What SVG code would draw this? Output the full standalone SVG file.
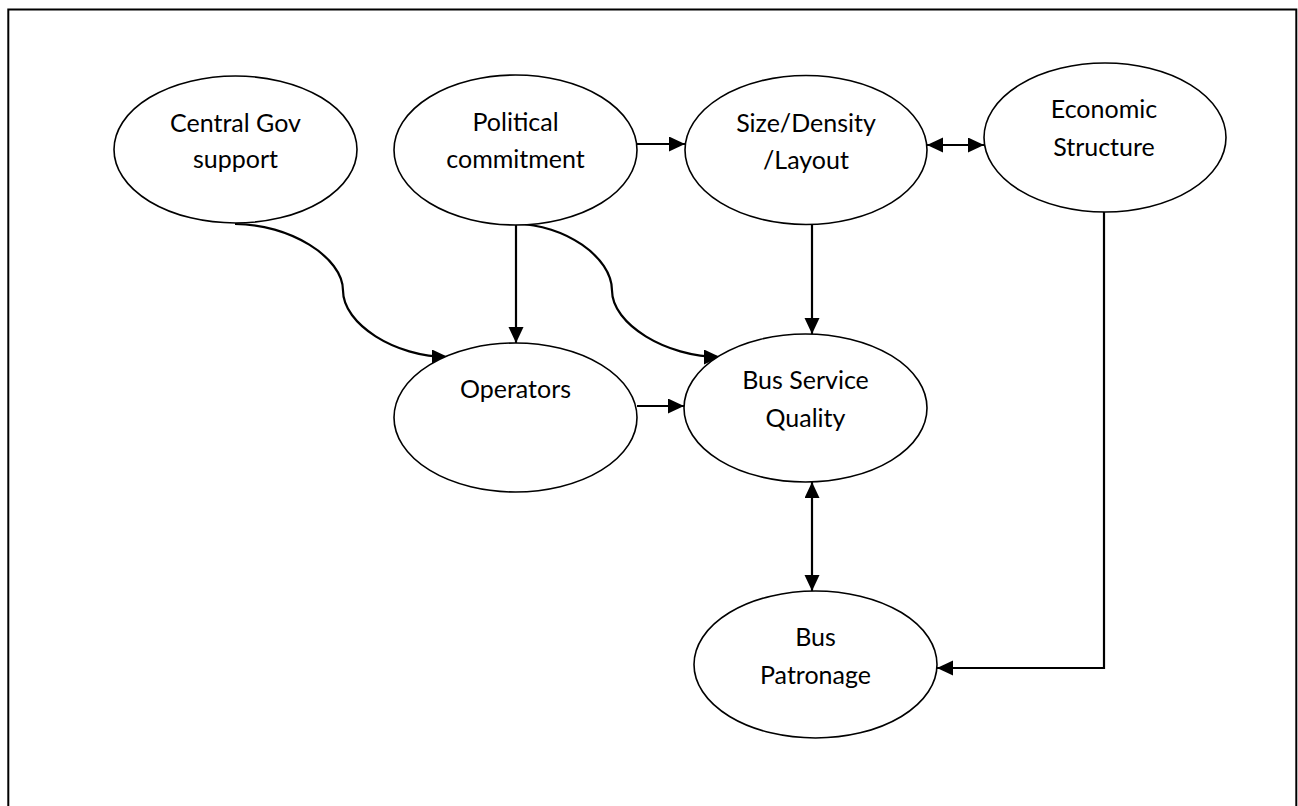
<svg xmlns="http://www.w3.org/2000/svg" width="1298" height="806" viewBox="0 0 1298 806">
<style>
.node ellipse{fill:#fff;stroke:#000;stroke-width:1.6}
.node text{font-family:Lato,"Open Sans","Liberation Sans",sans-serif;font-size:25px;fill:#000;text-anchor:middle}
.conn path{fill:none;stroke:#000;stroke-width:2.2}
</style>
<defs>
<marker id="ah" markerUnits="userSpaceOnUse" markerWidth="17" markerHeight="16" refX="16" refY="7.5" orient="auto-start-reverse">
<path d="M0,0 L16,7.5 L0,15 z" fill="#000"/>
</marker>
</defs>
<rect x="8.3" y="9.5" width="1288" height="830" fill="#fff" stroke="#000" stroke-width="2"/>
<g id="connectors" class="conn">
<path d="M637,144 L685,144" marker-end="url(#ah)"/>
<path d="M927,145 L984,145" marker-start="url(#ah)" marker-end="url(#ah)"/>
<path d="M812,224 L812,334" marker-end="url(#ah)"/>
<path d="M1104,212 L1104,668 L937,668" marker-end="url(#ah)"/>
<path d="M812,482 L812,591" marker-start="url(#ah)" marker-end="url(#ah)"/>
<path d="M516,225 L516,343" marker-end="url(#ah)"/>
<path d="M637,406 L684,406" marker-end="url(#ah)"/>
<path d="M235,224 C289,224 343,257 343,290.5 C343,324 395,357 448,357" marker-end="url(#ah)"/>
<path d="M516,224 C564,224 612,257 612,290.5 C612,324 666,357 720,357" marker-end="url(#ah)"/>
</g>
<g id="central-gov" class="node">
<ellipse cx="235.5" cy="149.5" rx="121.5" ry="73.5"/>
<text x="235.5" y="132">Central Gov</text>
<text x="235.5" y="168">support</text>
</g>
<g id="political" class="node">
<ellipse cx="515.5" cy="150" rx="121.5" ry="75"/>
<text x="515.5" y="131">Political</text>
<text x="515.5" y="168">commitment</text>
</g>
<g id="size-density" class="node">
<ellipse cx="806" cy="150" rx="121" ry="74.5"/>
<text x="806" y="132">Size/Density</text>
<text x="806" y="169">/Layout</text>
</g>
<g id="economic" class="node">
<ellipse cx="1105" cy="137.5" rx="121" ry="74.5"/>
<text x="1104" y="118">Economic</text>
<text x="1104" y="156">Structure</text>
</g>
<g id="operators" class="node">
<ellipse cx="515.5" cy="417.5" rx="121.5" ry="74.5"/>
<text x="515.5" y="398">Operators</text>
</g>
<g id="bus-service-quality" class="node">
<ellipse cx="805.5" cy="408" rx="121.5" ry="74"/>
<text x="805.5" y="389">Bus Service</text>
<text x="805.5" y="427">Quality</text>
</g>
<g id="bus-patronage" class="node">
<ellipse cx="815.5" cy="664.5" rx="121.5" ry="73.5"/>
<text x="815.5" y="646">Bus</text>
<text x="815.5" y="684">Patronage</text>
</g>
</svg>
